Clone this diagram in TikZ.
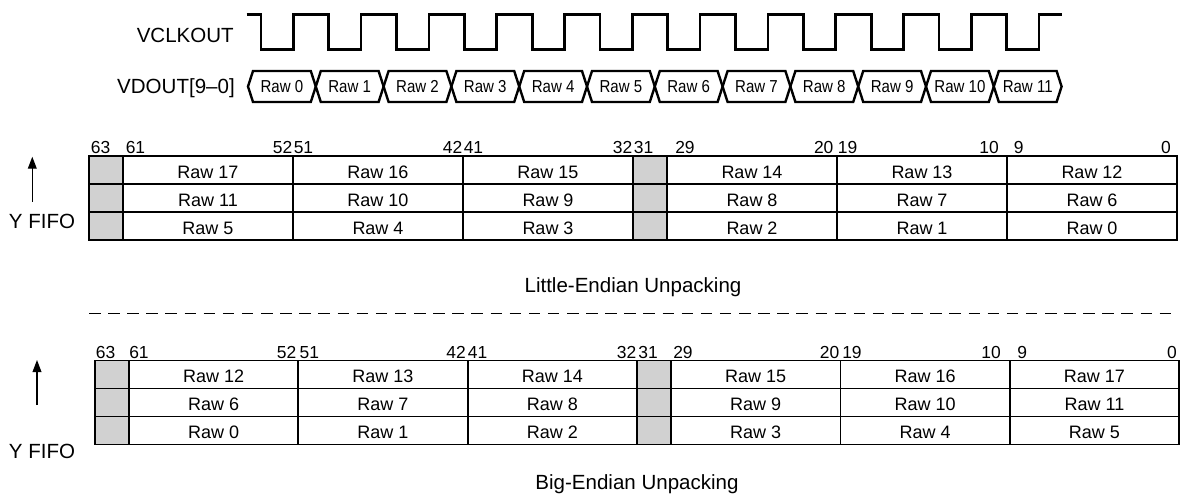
\documentclass[tikz,border=0pt]{standalone}
\usepackage{fontspec}
\setmainfont{Liberation Sans}
\newfontfamily\busfont[FakeStretch=0.87]{Liberation Sans}
\usepackage{tikz}
\usetikzlibrary{arrows.meta}
\definecolor{padgray}{RGB}{209,209,209}

\begin{document}
\begin{tikzpicture}[x=0.25mm,y=-0.25mm,
  lab/.style={font=\fontsize{14.6}{17}\selectfont,inner sep=0pt},
  clk/.style={line width=1.9pt},
  bus/.style={line width=1.7pt,line join=miter},
  rawtxt/.style={font=\busfont\fontsize{12.3}{14}\selectfont,inner sep=0pt},
  cell/.style={font=\fontsize{12.8}{15}\selectfont,inner sep=0pt,anchor=base},
  bitno/.style={font=\fontsize{12.4}{14}\selectfont,inner sep=0pt},
  grid/.style={line width=1.2pt},
  sep/.style={line width=0.9pt,dash pattern=on 8.2pt off 5.4pt},
  fifo/.style={-{Triangle[length=3mm,width=2.2mm]},line width=0.8pt}]
  \useasboundingbox (0,0) rectangle (1182,498);
  % timing
  \node[lab,anchor=base east] (vclk) at (234,42.3) {VCLKOUT};
  \draw[clk] (246.7,14.3) foreach \k in {0,...,11}{
    -- ({261+67.8*\k},14.3) -- ({261+67.8*\k},49.3)
    -- ({293.3+67.8*\k},49.3) -- ({293.3+67.8*\k},14.3)} -- (1061.7,14.3);
  \node[lab,anchor=base east] (vdout) at (235,93.5) {VDOUT[9–0]};
  \foreach \k in {0,...,11}{
    \draw[bus] ({248+67.8*\k},86.5) -- ({253+67.8*\k},71) -- ({310.8+67.8*\k},71)
      -- ({315.8+67.8*\k},86.5) -- ({310.8+67.8*\k},102) -- ({253+67.8*\k},102) -- cycle;
    \node[rawtxt] (b\k) at ({281.9+67.8*\k},86.5) {Raw \k};
  }
  % the two FIFO words
  \foreach \tb/\L/\w/\T in {1/89/17/156, 2/95/16.94/360.5}{
    \fill[padgray] (\L,\T) rectangle ({\L+2*\w},{\T+84});
    \fill[padgray] ({\L+32*\w},\T) rectangle ({\L+34*\w},{\T+84});
    \draw[grid] (\L,\T) rectangle ({\L+64*\w},{\T+84});
    \foreach \r in {1,2}
      \draw[grid] (\L,{\T+28*\r}) -- ({\L+64*\w},{\T+28*\r});
    \foreach \b in {2,12,22,32,34,44,54}
      \draw[grid] ({\L+\b*\w},\T) -- ({\L+\b*\w},{\T+84});
    \foreach \c/\b in {0/2,1/12,2/22,3/34,4/44,5/54}
      \foreach \r in {0,1,2}{
        \pgfmathtruncatemacro{\v}{\tb==1 ? 6*(2-\r)+5-\c : 6*(2-\r)+\c}
        \node[cell] (t\tb r\r c\c) at ({\L+(\b+5)*\w},{\T+22+28*\r}) {Raw \v};
      }
  }
  % bit numbers
  \foreach \x/\t/\a in {90.7/63/west, 125.5/61/west, 292.5/52/east, 293.5/51/west,
      462.5/42/east, 463.5/41/west, 632.5/32/east, 633.6/31/west, 675/29/west,
      833.7/20/east, 837.6/19/west, 999/10/east, 1013.6/9/west, 1171/0/east}
    \node[bitno,anchor=base \a] (u\t) at (\x,153.5) {\t};
  \foreach \x/\t/\a in {95.7/63/west, 129/61/west, 296.6/52/east, 299.3/51/west,
      466/42/east, 467.7/41/west, 636.6/32/east, 638.2/31/west, 673/29/west,
      839.5/20/east, 842/19/west, 1001/10/east, 1017/9/west, 1177/0/east}
    \node[bitno,anchor=base \a] (d\t) at (\x,358) {\t};
  % fifo direction
  \node[lab] (fifo1) at (42,221.7) {Y FIFO};
  \coordinate (f1lo) at (32.3,201.7);
  \coordinate (f1hi) at (32.3,156.7);
  \draw[fifo] (f1lo) -- (f1hi);
  \node[lab] (fifo2) at (42,451) {Y FIFO};
  \coordinate (f2lo) at (37,405);
  \coordinate (f2hi) at (37,360);
  \draw[fifo] (f2lo) -- (f2hi);
  % captions and separator
  \node[lab,anchor=base] (lecap) at (633,292.3) {Little-Endian Unpacking};
  \coordinate (sepl) at (89,313.6);
  \coordinate (sepr) at (1177,313.6);
  \draw[sep] (sepl) -- (sepr);
  \node[lab,anchor=base] (becap) at (637,489) {Big-Endian Unpacking};
\end{tikzpicture}
\end{document}
